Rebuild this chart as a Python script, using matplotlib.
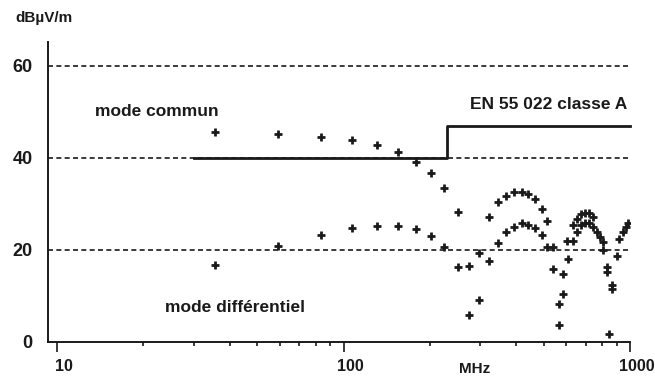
import numpy as np
import matplotlib.pyplot as plt
import matplotlib.transforms as mtransforms
from matplotlib.ticker import FixedLocator, NullFormatter

plt.rcParams['font.family'] = ['Liberation Sans', 'DejaVu Sans']
plt.rcParams['font.weight'] = 'bold'

# mode commun (upper trace), MHz / dBuV/m
cm_f = [35.6, 59.2, 83.4, 107, 131, 155, 179, 202, 225, 250, 274, 298, 322,
        345, 368, 394, 419, 442, 466, 492, 512, 538, 565, 585, 601, 634, 655,
        673, 697, 721, 745, 769, 786, 803, 829, 863, 899, 918, 944, 966, 986]
cm_db = [45.7, 45.2, 44.6, 43.8, 42.8, 41.4, 39.2, 36.7, 33.5, 28.3, 16.6, 19.4, 27.2,
         30.4, 31.8, 32.7, 32.7, 32.2, 31.0, 28.9, 26.2, 20.7, 8.3, 10.4, 22.0, 25.4, 26.7,
         27.8, 28.1, 28.0, 27.2, 24.0, 22.9, 21.8, 16.4, 12.4, 18.7, 22.3, 24.0, 24.9, 25.8]

# mode differentiel (lower trace)
dm_f = [35.6, 59.2, 83.4, 107, 131, 155, 179, 202, 225, 250, 274, 298, 322,
        345, 368, 394, 419, 442, 466, 492, 512, 538, 565, 585, 609, 634, 655,
        673, 697, 721, 745, 803, 829, 847, 863]
dm_db = [16.7, 20.9, 23.3, 24.7, 25.3, 25.3, 24.5, 23.0, 20.7, 16.4, 5.9, 9.1, 17.7,
         21.5, 23.8, 24.9, 25.8, 25.4, 24.7, 23.3, 20.7, 15.8, 3.7, 14.8, 18.0, 22.0, 24.0,
         25.4, 25.9, 25.8, 25.1, 20.0, 15.3, 1.7, 11.5]

# EN 55 022 classe A limit
lim_f = [30, 230, 230, 1000]
lim_db = [40, 40, 47, 47]

grid_db = [20, 40, 60]
ytick_vals = [0, 20, 40, 60]
xtick_vals = [10, 100, 1000]

ink = '#1a1a1a'

fig = plt.figure(figsize=(6.55, 3.78), dpi=100)
ax = fig.add_axes([48/655, 36/378, 582/655, 300/378])

for g in grid_db:
    ax.axhline(g, color=ink, lw=1.2, ls=(0, (3, 2)), zorder=1)

ax.plot(lim_f, lim_db, color=ink, lw=2.0, zorder=2, clip_on=False)

ax.plot(cm_f, cm_db, ls='none', marker='+', ms=5.5, mew=2.0, color=ink, zorder=3)
ax.plot(dm_f, dm_db, ls='none', marker='+', ms=5.5, mew=2.0, color=ink, zorder=3)

ax.set_xscale('log')
ax.set_xlim(9.3, 1000)
ax.set_ylim(0, 65.2)

ax.spines['top'].set_visible(False)
ax.spines['right'].set_visible(False)
ax.spines['left'].set_color(ink)
ax.spines['bottom'].set_color(ink)
ax.spines['left'].set_linewidth(1.4)
ax.spines['bottom'].set_linewidth(1.4)

ax.xaxis.set_major_locator(FixedLocator(xtick_vals))
ax.set_xticklabels([str(v) for v in xtick_vals])
ax.xaxis.set_minor_locator(FixedLocator([m * d for d in (10, 100) for m in range(2, 10)]))
ax.xaxis.set_minor_formatter(NullFormatter())
ax.tick_params(axis='x', which='major', direction='out', length=7, width=1.2,
               color=ink, labelsize=11.5, pad=5, labelcolor=ink)
ax.tick_params(axis='x', which='minor', direction='out', length=3, width=1.2, color=ink)

# the scanned labels sit a little right of their ticks
shift = mtransforms.ScaledTranslation(7/100, 0, fig.dpi_scale_trans)
for lbl in ax.get_xticklabels():
    lbl.set_transform(lbl.get_transform() + shift)

ax.set_yticks(ytick_vals)
ax.tick_params(axis='y', length=0, pad=11, labelsize=13, labelcolor=ink)

ax.text(288, -5.8, 'MHz', ha='center', va='center', fontsize=11, color=ink, clip_on=False)
fig.text(15/655, 1 - 18/378, 'dB\u00b5V/m', ha='left', va='center', fontsize=11, color=ink)

ax.text(13.6, 50.0, 'mode commun', ha='left', va='center', fontsize=12.5, color=ink)
ax.text(276, 51.7, 'EN 55 022 classe A', ha='left', va='center', fontsize=12.5, color=ink)
ax.text(23.8, 7.6, 'mode diff\u00e9rentiel', ha='left', va='center', fontsize=12.5, color=ink)

fig.savefig('out.png', dpi=100)
